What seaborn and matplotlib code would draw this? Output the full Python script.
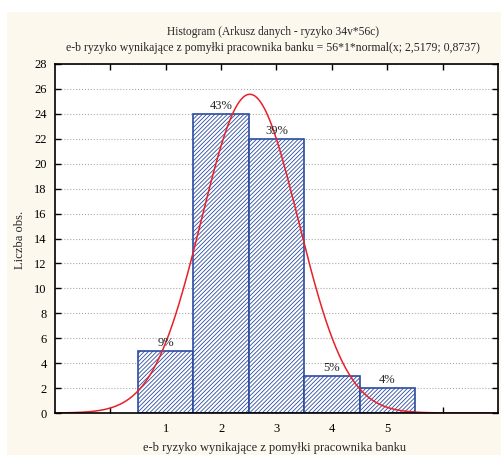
import numpy as np
import pandas as pd
import seaborn as sns
import matplotlib.pyplot as plt
from matplotlib.patches import Rectangle

klasy = [1, 2, 3, 4, 5]
liczba_obs = [5, 24, 22, 3, 2]
procenty = ['9%', '43%', '39%', '5%', '4%']
n_obs = 56
srednia = 2.5179
odch_std = 0.8737

base = pd.DataFrame({'klasa': klasy, 'n': liczba_obs})

sns.set_style('ticks')
plt.rcParams['font.family'] = ['Liberation Serif', 'DejaVu Serif']
plt.rcParams['hatch.linewidth'] = 0.6
plt.rcParams['hatch.color'] = '#2b4c9f'

fig = plt.figure(figsize=(5.02, 4.55), dpi=100, facecolor='white')
fig.patches.append(Rectangle((7 / 502, 0), 1, 1 - 12 / 455, transform=fig.transFigure,
                             facecolor='#fcf8ee', edgecolor='none', zorder=-5))
ax = fig.add_axes([55 / 502, 1 - 413 / 455, 443 / 502, 349 / 455])
ax.set_zorder(2)
ax.set_facecolor('white')

# słupki histogramu
sns.barplot(data=base, x='klasa', y='n', native_scale=True, width=1,
            color='white', edgecolor='#2b4c9f', linewidth=1.2, ax=ax, zorder=2)
for p in ax.patches:
    p.set_hatch('////////')
    p.set_facecolor('white')

for x, y, t in zip(klasy, liczba_obs, procenty):
    ax.annotate(t, (x, y), xytext=(0, 1.5), textcoords='offset points',
                ha='center', va='bottom', fontsize=9, zorder=5)

# krzywa normalna z tytułu: 56*1*normal(x; 2,5179; 0,8737)
xs = np.linspace(-0.95, 7, 400)
ys = n_obs * 1 * np.exp(-0.5 * ((xs - srednia) / odch_std) ** 2) / (odch_std * np.sqrt(2 * np.pi))
sns.lineplot(x=xs, y=ys, color='#e8202a', linewidth=1.1, ax=ax, zorder=4)

ax.set_xlim(-1, 7)
ax.set_ylim(0, 28)
ax.set_yticks(range(0, 29, 2))
ax.set_xticks(range(0, 7))
ax.set_xticklabels(['', '1', '2', '3', '4', '5', ''])
ax.yaxis.grid(True, linestyle=':', color='#aaaaaa', linewidth=0.8)
ax.set_axisbelow(True)
ax.tick_params(direction='in', top=True, right=True, length=4, width=1,
               labelsize=9, colors='black')
ax.tick_params(axis='x', pad=7)
ax.tick_params(axis='y', pad=6)
for s in ax.spines.values():
    s.set_linewidth(1.2)
    s.set_color('black')
    s.set_zorder(6)

ax.set_xlabel('e-b ryzyko wynikające z pomyłki pracownika banku', fontsize=9)
ax.set_ylabel('Liczba obs.', fontsize=9)
ax.xaxis.set_label_coords((275 - 55) / 443, -(448 - 413) / 349)
ax.yaxis.set_label_coords(-(55 - 20) / 443, (413 - 240) / 349)
ax.xaxis.label.set_va('center')
ax.yaxis.label.set_va('center')

fig.text(273 / 502, 1 - 32 / 455, 'Histogram (Arkusz danych - ryzyko 34v*56c)',
         ha='center', va='center', fontsize=8.3)
fig.text(273 / 502, 1 - 48 / 455,
         'e-b ryzyko wynikające z pomyłki pracownika banku = 56*1*normal(x; 2,5179; 0,8737)',
         ha='center', va='center', fontsize=8.5)

plt.savefig('out.png', dpi=100, facecolor='white')
